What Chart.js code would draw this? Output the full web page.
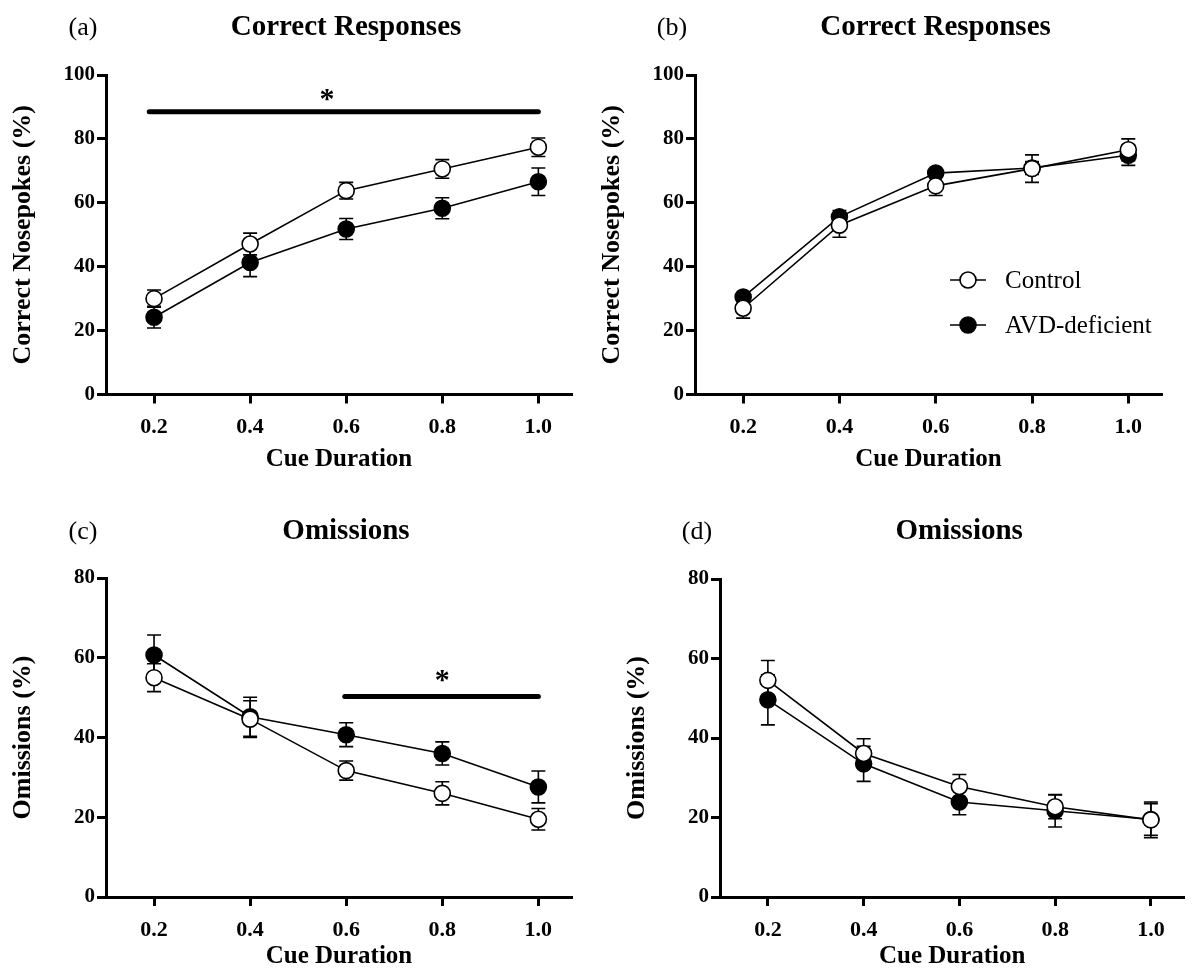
<!DOCTYPE html>
<html lang="en">
<head>
    <meta charset="UTF-8">
    <title>Correct Responses and Omissions</title>
    <script src="https://cdn.jsdelivr.net/npm/chart.js@4.4.0/dist/chart.umd.min.js"></script>
    <style>
        body { margin: 0; background: #fff; }
        #wrap { position: relative; width: 1194px; height: 972px; }
        .panel { position: absolute; width: 597px; height: 486px; }
    </style>
</head>
<body>
<div id="wrap">
    <div class="panel" style="left:0;top:0"><canvas id="chartA"></canvas></div>
    <div class="panel" style="left:597px;top:0"><canvas id="chartB"></canvas></div>
    <div class="panel" style="left:0;top:486px"><canvas id="chartC"></canvas></div>
    <div class="panel" style="left:597px;top:486px"><canvas id="chartD"></canvas></div>
</div>
<script>
    // data (means and SEM)
    const cueDurations = [0.2, 0.4, 0.6, 0.8, 1.0];
    const xTicks = [0.2, 0.4, 0.6, 0.8, 1.0];
    const seriesNames = ['Control', 'AVD-deficient'];

    const correctCtrlA = [30.0, 47.1, 63.8, 70.6, 77.4];
    const correctCtrlErrA = [2.7, 3.4, 2.6, 2.9, 2.9];
    const correctAvdA = [24.2, 41.3, 51.8, 58.3, 66.6];
    const correctAvdErrA = [3.4, 4.4, 3.3, 3.3, 4.3];

    const correctCtrlB = [27.0, 53.0, 65.3, 70.7, 76.6];
    const correctCtrlErrB = [3.1, 3.8, 3.0, 4.3, 3.4];
    const correctAvdB = [30.5, 55.6, 69.3, 70.9, 74.9];
    const correctAvdErrB = [1.0, 2.0, 1.0, 2.0, 3.2];

    const omitCtrlC = [55.0, 44.6, 31.7, 26.0, 19.5];
    const omitCtrlErrC = [3.5, 4.6, 2.4, 2.9, 2.7];
    const omitAvdC = [60.7, 45.2, 40.7, 36.0, 27.6];
    const omitAvdErrC = [5.0, 4.9, 3.0, 2.9, 4.0];

    const omitCtrlD = [54.5, 36.1, 27.8, 22.7, 19.4];
    const omitCtrlErrD = [5.0, 3.7, 3.0, 3.0, 4.5];
    const omitAvdD = [49.6, 33.5, 23.9, 21.7, 19.5];
    const omitAvdErrD = [6.3, 4.4, 3.2, 4.1, 4.0];

    // significance bars: [x start, x end, y], star: [x, y]
    const sigBarA = [0.19, 1.0, 88.5];
    const sigStarA = [0.56, 94];
    const sigBarC = [0.597, 1.0, 50.3];
    const sigStarC = [0.8, 55.5];

    const FONT = "'Liberation Serif', 'Times New Roman', serif";

    const errorBars = {
        id: 'errorBars',
        beforeDatasetsDraw(chart) {
            const ctx = chart.ctx;
            const y = chart.scales.y;
            ctx.save();
            ctx.strokeStyle = '#000';
            ctx.lineWidth = 1.6;
            chart.data.datasets.forEach((ds, i) => {
                const meta = chart.getDatasetMeta(i);
                meta.data.forEach((pt, j) => {
                    const v = ds.data[j].y, e = ds.errors[j];
                    const yTop = y.getPixelForValue(v + e), yBot = y.getPixelForValue(v - e);
                    ctx.beginPath();
                    ctx.moveTo(pt.x, yTop); ctx.lineTo(pt.x, yBot);
                    ctx.moveTo(pt.x - 7, yTop); ctx.lineTo(pt.x + 7, yTop);
                    ctx.moveTo(pt.x - 7, yBot); ctx.lineTo(pt.x + 7, yBot);
                    ctx.stroke();
                });
            });
            ctx.restore();
        }
    };

    const decor = {
        id: 'decor',
        afterDraw(chart, args, opts) {
            const ctx = chart.ctx;
            const area = chart.chartArea;
            const xs = chart.scales.x, ys = chart.scales.y;
            ctx.save();
            ctx.fillStyle = '#000';
            ctx.textBaseline = 'middle';
            ctx.textAlign = 'center';
            ctx.font = 'bold 29px ' + FONT;
            ctx.fillText(opts.title, (area.left + area.right) / 2 + 7, opts.titleY);
            ctx.font = '26px ' + FONT;
            ctx.fillText(opts.label, area.left - 23, opts.titleY);

            if (opts.sigBar) {
                ctx.strokeStyle = '#000';
                ctx.lineWidth = 5;
                ctx.lineCap = 'round';
                const yb = ys.getPixelForValue(opts.sigBar[2]);
                ctx.beginPath();
                ctx.moveTo(xs.getPixelForValue(opts.sigBar[0]), yb);
                ctx.lineTo(xs.getPixelForValue(opts.sigBar[1]), yb);
                ctx.stroke();
                ctx.font = 'bold 30px ' + FONT;
                ctx.fillText('*', xs.getPixelForValue(opts.sigStar[0]), ys.getPixelForValue(opts.sigStar[1]) + 6);
            }

            if (opts.legend) {
                ctx.textAlign = 'left';
                ctx.font = '25px ' + FONT;
                chart.data.datasets.forEach((ds, i) => {
                    const ly = 280 + i * 45;
                    ctx.strokeStyle = '#000';
                    ctx.lineWidth = 1.6;
                    ctx.beginPath();
                    ctx.moveTo(353, ly); ctx.lineTo(389, ly);
                    ctx.stroke();
                    ctx.beginPath();
                    ctx.arc(371, ly, 8, 0, Math.PI * 2);
                    ctx.fillStyle = ds.backgroundColor;
                    ctx.fill();
                    ctx.stroke();
                    ctx.fillStyle = '#000';
                    ctx.fillText(ds.label, 408, ly + 1);
                });
            }
            ctx.restore();
        }
    };

    function makeSeries(label, values, errors, fill) {
        return {
            label: label,
            data: cueDurations.map((x, i) => ({ x: x, y: values[i] })),
            errors: errors,
            borderColor: '#000',
            borderWidth: 1.6,
            backgroundColor: fill,
            pointBackgroundColor: fill,
            pointBorderColor: '#000',
            pointBorderWidth: 1.6,
            pointRadius: 8,
            pointHoverRadius: 8,
            tension: 0,
            clip: false
        };
    }

    function makeChart(id, cfg) {
        const axisW = cfg.left;
        return new Chart(document.getElementById(id), {
            type: 'line',
            data: {
                datasets: [
                    makeSeries(seriesNames[0], cfg.ctrl, cfg.ctrlErr, '#ffffff'),
                    makeSeries(seriesNames[1], cfg.avd, cfg.avdErr, '#000000')
                ]
            },
            options: {
                responsive: true,
                maintainAspectRatio: false,
                animation: false,
                events: [],
                layout: { padding: { left: 0, top: cfg.top, right: 597 - cfg.right, bottom: 486 - cfg.bottom - 80 } },
                scales: {
                    x: {
                        type: 'linear',
                        min: 0.1, max: 1.07,
                        afterBuildTicks: s => { s.ticks = xTicks.map(v => ({ value: v })); },
                        afterFit: s => { s.height = 80; },
                        ticks: {
                            color: '#000', padding: 11,
                            font: { family: FONT, size: 22, weight: 'bold' },
                            callback: v => v.toFixed(1)
                        },
                        grid: { drawOnChartArea: false, tickLength: 9, tickWidth: 3, tickColor: '#000' },
                        border: { display: true, width: 3, color: '#000' },
                        title: {
                            display: true, text: 'Cue Duration', color: '#000',
                            font: { family: FONT, size: 25, weight: 'bold' },
                            padding: { top: 0, bottom: cfg.xTitlePad }
                        }
                    },
                    y: {
                        min: 0, max: cfg.yMax,
                        afterFit: s => { s.width = axisW; },
                        ticks: {
                            stepSize: 20, color: '#000', padding: 2,
                            font: { family: FONT, size: 21, weight: 'bold' }
                        },
                        grid: { drawOnChartArea: false, tickLength: 9, tickWidth: 3, tickColor: '#000' },
                        border: { display: true, width: 3, color: '#000' },
                        title: {
                            display: true, text: cfg.yTitle, color: '#000',
                            font: { family: FONT, size: 26, weight: 'bold' },
                            padding: { top: Math.max(0, axisW - 83 - 15), bottom: 0 }
                        }
                    }
                },
                plugins: {
                    legend: { display: false },
                    tooltip: { enabled: false },
                    decor: cfg.decor
                }
            },
            plugins: [errorBars, decor]
        });
    }

    makeChart('chartA', {
        left: 106, right: 572, top: 75, bottom: 394.5, yMax: 100, xTitlePad: 0,
        yTitle: 'Correct Nosepokes (%)',
        ctrl: correctCtrlA, ctrlErr: correctCtrlErrA, avd: correctAvdA, avdErr: correctAvdErrA,
        decor: { title: 'Correct Responses', label: '(a)', titleY: 28, sigBar: sigBarA, sigStar: sigStarA }
    });
    makeChart('chartB', {
        left: 98, right: 565, top: 75, bottom: 394.5, yMax: 100, xTitlePad: 0,
        yTitle: 'Correct Nosepokes (%)',
        ctrl: correctCtrlB, ctrlErr: correctCtrlErrB, avd: correctAvdB, avdErr: correctAvdErrB,
        decor: { title: 'Correct Responses', label: '(b)', titleY: 28, legend: true }
    });
    makeChart('chartC', {
        left: 106, right: 572, top: 92, bottom: 411, yMax: 80, xTitlePad: 5,
        yTitle: 'Omissions (%)',
        ctrl: omitCtrlC, ctrlErr: omitCtrlErrC, avd: omitAvdC, avdErr: omitAvdErrC,
        decor: { title: 'Omissions', label: '(c)', titleY: 46, sigBar: sigBarC, sigStar: sigStarC }
    });
    makeChart('chartD', {
        left: 123, right: 589, top: 93, bottom: 411, yMax: 80, xTitlePad: 5,
        yTitle: 'Omissions (%)',
        ctrl: omitCtrlD, ctrlErr: omitCtrlErrD, avd: omitAvdD, avdErr: omitAvdErrD,
        decor: { title: 'Omissions', label: '(d)', titleY: 46 }
    });
</script>
</body>
</html>
